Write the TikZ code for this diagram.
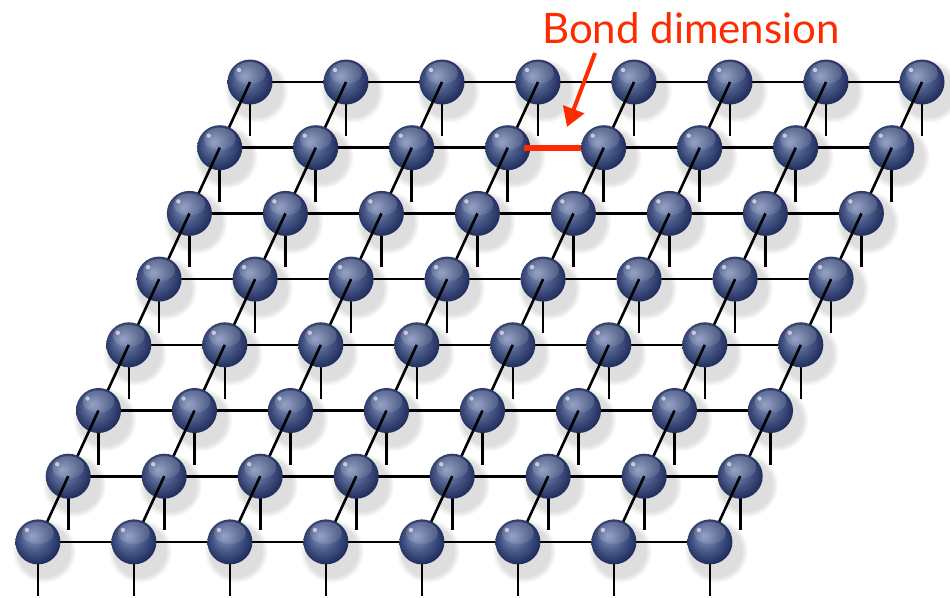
\documentclass[tikz,border=0pt]{standalone}
\usepackage{fontspec}
\newfontfamily\labelfont{Lato}
\usetikzlibrary{arrows.meta,fadings}
\definecolor{bondred}{HTML}{FF2A00}
\definecolor{sphhi}{HTML}{8593BB}
\definecolor{sphmid}{HTML}{40507F}
\definecolor{sphdark}{HTML}{1F2C5B}
\pgfdeclareradialshading{sphshade}{\pgfqpoint{-7bp}{7bp}}{color(0bp)=(sphhi); color(4bp)=(sphhi!80!sphmid); color(17bp)=(sphmid); color(27bp)=(sphdark); color(36bp)=(sphdark)}
\tikzset{
  bondline/.style={line width=2.6pt, black},
  sphere/.style={circle, minimum size=45pt, inner sep=0pt, shading=sphshade,
    path picture={
      \fill[white, opacity=0.22, path fading=south] (path picture bounding box.center) ++(0,-9) ellipse (16 and 11);
      \fill[white, opacity=0.6] (path picture bounding box.center) ++(-11,-12) circle (2.2);
    }},
  shadowblob/.style={fill=black, opacity=0.13, path fading=circle with fuzzy edge 20 percent},
}
\begin{document}
\begin{tikzpicture}[x=1pt,y=-1pt]
\useasboundingbox (0,0) rectangle (950,597);
\fill[white] (0,0) rectangle (950,597);
\foreach \r in {0,...,7}{\foreach \c in {0,...,7}{
  \pgfmathsetmacro\px{250-30.3*\r+96*\c}
  \pgfmathsetmacro\py{82+65.7*\r}
  \coordinate (n-\r-\c) at (\px,\py);
  \coordinate (l-\r-\c) at (\px,\py+54);
}}
% soft shadows
\foreach \r in {0,...,7}{\foreach \c in {0,...,7}{
  \fill[shadowblob] (n-\r-\c) ++(6,9) circle (32);
}}
% grid, row by row from the back
\foreach \r in {0,...,7}{
  \draw[bondline] (n-\r-0) -- (n-\r-7);
  \foreach \c in {0,...,7}{\draw[bondline] (n-\r-\c) -- (l-\r-\c);}
  \ifnum\r>0
    \pgfmathtruncatemacro\rp{\r-1}
    \foreach \c in {0,...,7}{\draw[bondline] (n-\rp-\c) -- (n-\r-\c);}
  \fi
  \foreach \c in {0,...,7}{\node[sphere] (s-\r-\c) at (n-\r-\c) {};}
}
% highlighted bond
\draw[bondred, line width=6pt, shorten <=-6pt] (s-1-3.east) -- (s-1-4.west);
% label and arrow
\node[text=bondred, font=\labelfont\fontsize{42}{42}\selectfont, anchor=base, inner sep=0pt] (bondlabel) at (691,43) {Bond dimension};
\coordinate (arrtail) at (595,53);
\coordinate (arrtip) at (567,127);
\draw[bondred, line width=4pt, -{Triangle[length=19pt,width=22pt]}] (arrtail) -- (arrtip);
\end{tikzpicture}
\end{document}
